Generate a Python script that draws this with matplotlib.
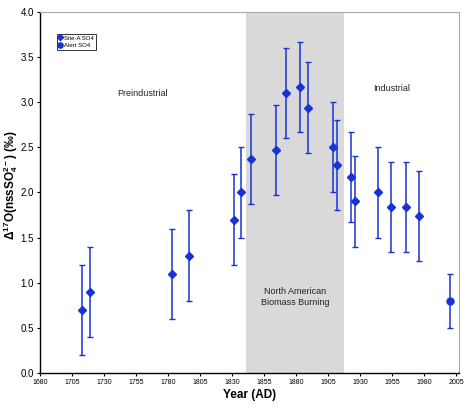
import matplotlib.pyplot as plt
from matplotlib.lines import Line2D

plt.rcParams['font.family'] = ['Liberation Sans', 'DejaVu Sans']
plt.rcParams['mathtext.fontset'] = 'custom'
plt.rcParams['mathtext.rm'] = 'Liberation Sans:bold'
plt.rcParams['mathtext.bf'] = 'Liberation Sans:bold'
plt.rcParams['mathtext.default'] = 'bf'

# Site-A SO4 record
site_years = [1713, 1719, 1783, 1796, 1831, 1837, 1845, 1864, 1872, 1883, 1889,
              1909, 1912, 1923, 1926, 1944, 1954, 1966, 1976]
site_d17o = [0.70, 0.90, 1.10, 1.30, 1.70, 2.00, 2.37, 2.47, 3.10, 3.17, 2.94,
             2.50, 2.30, 2.17, 1.90, 2.00, 1.84, 1.84, 1.74]
site_err = [0.5] * len(site_years)

# Alert SO4
alert_years = [2000]
alert_d17o = [0.80]
alert_err = [0.3]

biomass_period = (1841, 1917)
blue = '#1733d6'

fig, ax = plt.subplots(figsize=(4.66, 4.09), dpi=100)
fig.subplots_adjust(left=0.086, right=0.985, top=0.971, bottom=0.088)

ax.axvspan(biomass_period[0], biomass_period[1], color='#d9d9d9', lw=0, zorder=0)

ax.errorbar(site_years, site_d17o, yerr=site_err, fmt='D', color=blue,
            ecolor=blue, elinewidth=1.1, capsize=2, capthick=1, markersize=4,
            zorder=3)
ax.errorbar(alert_years, alert_d17o, yerr=alert_err, fmt='o', color=blue,
            ecolor=blue, elinewidth=1.1, capsize=2, capthick=1, markersize=5,
            zorder=3)

ax.text(1760, 3.1, 'Preindustrial', ha='center', va='center', fontsize=6.5, color='#222222')
ax.text(1954, 3.15, 'Industrial', ha='center', va='center', fontsize=6.5, color='#222222')
ax.text(1879, 0.84, 'North American\nBiomass Burning', ha='center', va='center',
        fontsize=6.5, color='#222222', linespacing=1.3)

ax.set_xlim(1680, 2007)
ax.set_ylim(0, 4)
ax.set_xticks(range(1680, 2006, 25))
ax.set_yticks([0, 0.5, 1, 1.5, 2, 2.5, 3, 3.5, 4])
ax.set_yticklabels(['%.1f' % v for v in ax.get_yticks()])
ax.tick_params(axis='x', labelsize=5, direction='out', length=2.5, width=0.8, pad=2)
ax.tick_params(axis='y', labelsize=7, direction='out', length=2.5, width=0.8, pad=2)

for side in ['top', 'right']:
    ax.spines[side].set_color('#aaaaaa')
    ax.spines[side].set_linewidth(0.8)
for side in ['left', 'bottom']:
    ax.spines[side].set_linewidth(1.0)

ax.set_xlabel('Year (AD)', fontsize=8.5, fontweight='bold', labelpad=2)
ax.set_ylabel(r'$\Delta^{17}$O(nssSO$_4^{2-}$) (‰)', fontsize=8.5, fontweight='bold')
ax.yaxis.set_label_coords(-0.047, 0.52)

handles = [Line2D([], [], ls='none', marker='D', color=blue, markersize=3.2),
           Line2D([], [], ls='none', marker='o', color=blue, markersize=3.8)]
leg = ax.legend(handles, ['Site-A SO4', 'Alert SO4'], loc='upper left',
                bbox_to_anchor=(0.04, 0.94), fontsize=4.3,
                frameon=True, fancybox=False, edgecolor='black', borderpad=0.3,
                handlelength=0.6, handletextpad=0.3, labelspacing=0.4, borderaxespad=0)
leg.get_frame().set_linewidth(0.7)

fig.savefig('out.png', dpi=100)
